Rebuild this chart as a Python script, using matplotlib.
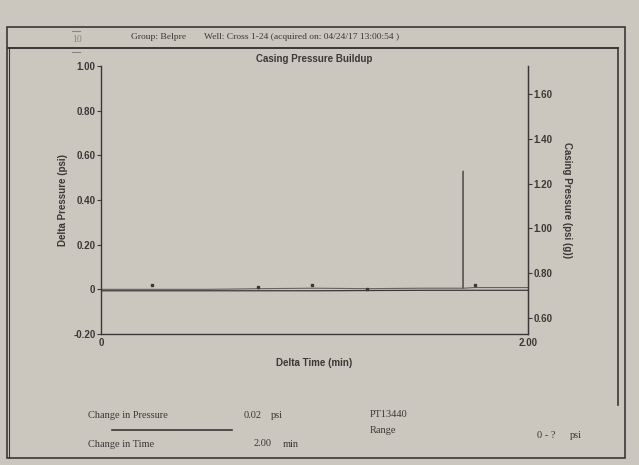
import matplotlib
matplotlib.use("Agg")
import matplotlib.pyplot as plt
from matplotlib.lines import Line2D
from matplotlib.patches import Rectangle

# ---- data ----
time_min = [0.0, 0.25, 0.50, 0.75, 1.00, 1.25, 1.50, 1.6955, 1.696, 1.6965, 1.75, 2.00]
delta_pressure = [0.0, 0.0, 0.0, 0.003, 0.005, 0.003, 0.005, 0.005, 0.53, 0.005, 0.008, 0.008]
casing_time = [0.0, 0.5, 1.0, 1.5, 2.0]
casing_pressure = [0.722, 0.722, 0.722, 0.724, 0.724]
dot_time = [0.24, 0.735, 0.99, 1.245, 1.75]
dot_dp = [0.02, 0.01, 0.02, 0.0, 0.02]
left_ticks = [-0.20, 0, 0.20, 0.40, 0.60, 0.80, 1.00]
left_labels = ["-0.20", "0", "0.20", "0.40", "0.60", "0.80", "1.00"]
right_ticks = [0.60, 0.80, 1.00, 1.20, 1.40, 1.60]
right_labels = ["0.60", "0.80", "1.00", "1.20", "1.40", "1.60"]
x_ticks = [0, 2.0]
x_labels = ["0", "2.00"]

BG = "#cbc7bf"
INK = "#3a3836"
SANS = "Liberation Sans"
SERIF = "Liberation Serif"

fig = plt.figure(figsize=(6.39, 4.65), dpi=100, facecolor=BG)

ax = fig.add_axes([101/639, 1-334/465, (528-101)/639, (334-66)/465])
ax.set_facecolor("none")
ax.plot(time_min, delta_pressure, color="#66625d", lw=0.8)
ax.plot(dot_time, dot_dp, ls="none", marker="s", ms=1.8, color=INK)
ax.set_xlim(0, 2.0)
ax.set_ylim(-0.20, 1.00)
ax.set_xticks(x_ticks)
ax.set_xticklabels(x_labels)
ax.set_yticks(left_ticks)
ax.set_yticklabels(left_labels)
ax.spines["top"].set_visible(False)
for s in ["left", "bottom", "right"]:
    ax.spines[s].set_color(INK)
    ax.spines[s].set_linewidth(1.0)
ax.tick_params(axis="y", direction="out", length=3, width=0.8, color=INK, pad=1,
               labelsize=7, labelcolor=INK)
ax.tick_params(axis="x", length=0, pad=3, labelsize=7, labelcolor=INK)
for lab in ax.get_xticklabels() + ax.get_yticklabels():
    lab.set_fontfamily(SANS)
    lab.set_fontweight("bold")
ax.set_ylabel("Delta Pressure (psi)", fontsize=7, fontweight="bold", family=SANS,
              color=INK, labelpad=4)
ax.set_xlabel("Delta Time (min)", fontsize=7, fontweight="bold", family=SANS,
              color=INK, labelpad=7)
ax.set_title("Casing Pressure Buildup", fontsize=7, fontweight="bold", family=SANS,
             color=INK, pad=3)

ax2 = ax.twinx()
ax2.plot(casing_time, casing_pressure, color=INK, lw=0.9)
ax2.set_ylim(0.529, 1.725)
ax2.set_yticks(right_ticks)
ax2.set_yticklabels(right_labels)
for s in ["top", "left", "bottom"]:
    ax2.spines[s].set_visible(False)
ax2.spines["right"].set_color(INK)
ax2.tick_params(axis="y", direction="out", length=3, width=0.8, color=INK, pad=1,
                labelsize=7, labelcolor=INK)
for lab in ax2.get_yticklabels():
    lab.set_fontfamily(SANS)
    lab.set_fontweight("bold")
ax2.set_ylabel("Casing Pressure (psi (g))", fontsize=7, fontweight="bold", family=SANS,
               color=INK, rotation=-90, labelpad=14)

# ---- frames ----
def fx(px):
    return px / 639

def fy(py):
    return 1 - py / 465

fig.add_artist(Rectangle((fx(7), fy(458)), fx(625) - fx(7), fy(27) - fy(458),
                         transform=fig.transFigure, fill=False, ec=INK, lw=1.2))
fig.add_artist(Line2D([fx(8), fx(618)], [fy(48), fy(48)], transform=fig.transFigure,
                      color=INK, lw=1.4))
fig.add_artist(Line2D([fx(618), fx(618)], [fy(48), fy(405)], transform=fig.transFigure,
                      color=INK, lw=1.2))
fig.add_artist(Line2D([fx(9), fx(9)], [fy(48), fy(458)], transform=fig.transFigure,
                      color=INK, lw=0.8))

# header
fig.text(fx(77), fy(40), "10", fontsize=7, family=SERIF, color="#8a8680",
         ha="center", va="center")
fig.add_artist(Line2D([fx(72), fx(80)], [fy(31), fy(31)], transform=fig.transFigure,
                      color="#8a8680", lw=0.8))
fig.add_artist(Line2D([fx(72), fx(80)], [fy(52), fy(52)], transform=fig.transFigure,
                      color="#8a8680", lw=0.8))
fig.text(fx(131), fy(37), "Group: Belpre", fontsize=6.8, family=SERIF, color=INK,
         ha="left", va="center")
fig.text(fx(204), fy(37), "Well: Cross 1-24 (acquired on: 04/24/17 13:00:54 )",
         fontsize=6.8, family=SERIF, color=INK, ha="left", va="center")

# bottom info
fig.text(fx(88), fy(415), "Change in Pressure", fontsize=7.5, family=SERIF, color=INK,
         ha="left", va="center")
fig.text(fx(262), fy(415), "0.02", fontsize=7.5, family=SERIF, color=INK,
         ha="right", va="center")
fig.text(fx(271), fy(415), "psi", fontsize=7.5, family=SERIF, color=INK,
         ha="left", va="center")
fig.add_artist(Line2D([fx(112), fx(232)], [fy(430), fy(430)], transform=fig.transFigure,
                      color=INK, lw=1.2))
fig.text(fx(88), fy(444), "Change in Time", fontsize=7.5, family=SERIF, color=INK,
         ha="left", va="center")
fig.text(fx(272), fy(443), "2.00", fontsize=7.5, family=SERIF, color=INK,
         ha="right", va="center")
fig.text(fx(283), fy(444), "min", fontsize=7.5, family=SERIF, color=INK,
         ha="left", va="center")
fig.text(fx(370), fy(414), "PT13440", fontsize=7.5, family=SERIF, color=INK,
         ha="left", va="center")
fig.text(fx(370), fy(430), "Range", fontsize=7.5, family=SERIF, color=INK,
         ha="left", va="center")
fig.text(fx(537), fy(435), "0 - ?", fontsize=7.5, family=SERIF, color=INK,
         ha="left", va="center")
fig.text(fx(570), fy(435), "psi", fontsize=7.5, family=SERIF, color=INK,
         ha="left", va="center")

fig.savefig("out.png", dpi=100, facecolor=BG)
